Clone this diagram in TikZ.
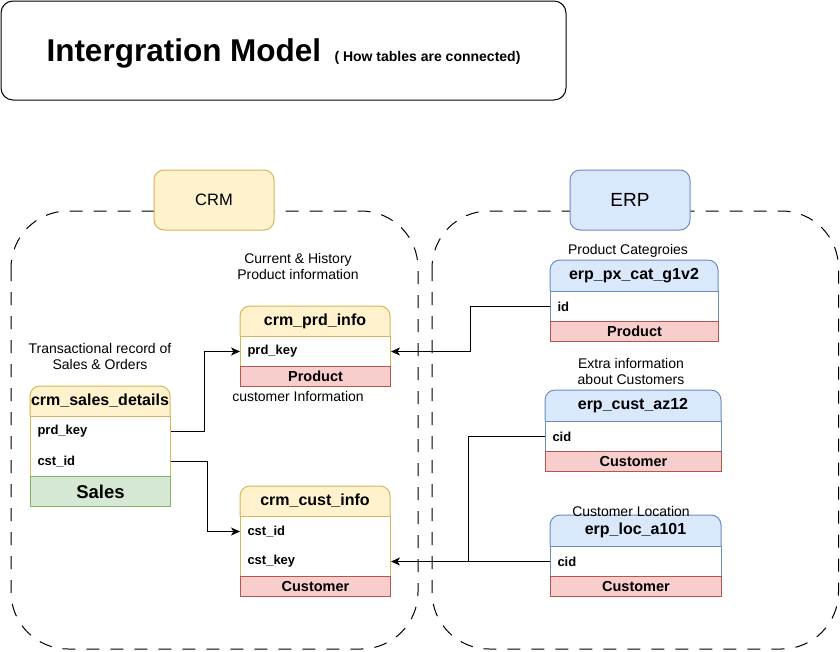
\documentclass[tikz,border=0pt]{standalone}
\usepackage{fontspec}
\setmainfont{Liberation Sans}
\usetikzlibrary{arrows.meta}
\definecolor{yfill}{HTML}{FFF2CC}
\definecolor{yline}{HTML}{D6B656}
\definecolor{bfill}{HTML}{DAE8FC}
\definecolor{bline}{HTML}{6C8EBF}
\definecolor{rfill}{HTML}{F8CECC}
\definecolor{rline}{HTML}{B85450}
\definecolor{gfill}{HTML}{D5E8D4}
\definecolor{gline}{HTML}{82B366}
\begin{document}
\begin{tikzpicture}[x=1pt,y=-1pt,line width=1pt,
  container/.style={draw=black,dash pattern=on 13pt off 11pt,rounded corners=57pt},
  groupbox/.style={rounded corners=10pt,minimum width=120pt,minimum height=60pt,inner sep=0pt},
  hdrbox/.style={rounded corners=10pt},
  hdr/.style={inner sep=0pt,font=\fontsize{16}{19}\selectfont\bfseries},
  rowbox/.style={fill=white,inner xsep=7pt,inner ysep=0pt,anchor=north west,minimum height=30pt,align=left,font=\fontsize{13}{15}\selectfont\bfseries},
  footbox/.style={draw=rline,fill=rfill,inner sep=0pt,anchor=north west,minimum height=20pt,font=\fontsize{14.5}{16}\selectfont\bfseries},
  note/.style={align=center,inner sep=0pt,font=\fontsize{14}{16}\selectfont},
  conn/.style={draw=black,-{Stealth[length=9pt,width=8pt,inset=2.5pt]}},
  plain/.style={draw=black}]
\useasboundingbox (0,0) rectangle (840,651);
\fill[white] (0,0) rectangle (840,651);

% title
\draw[rounded corners=12pt] (1,1) rectangle (566,100);
\node[anchor=base west,inner sep=0pt,font=\fontsize{31.5}{36}\selectfont\bfseries] (title) at (46,61.5) {Intergration Model};
\node[anchor=base west,inner sep=0pt,font=\fontsize{14}{17}\selectfont\bfseries] (subtitle) at (334,61.5) {( How tables are connected)};

% containers
\draw[container] (11,211) rectangle (418,649);
\draw[container] (432,211) rectangle (838.5,649);
\node[groupbox,draw=yline,fill=yfill,font=\fontsize{16.5}{19}\selectfont] (crm) at (214,200) {CRM};
\node[groupbox,draw=bline,fill=bfill,font=\fontsize{19}{22}\selectfont] (erp) at (630,200) {ERP};

% crm_prd_info
\path[hdrbox,draw=yline,fill=yfill] (240,336) -- (240,306) -- (390,306) -- (390,336);
\node[hdr] (prdH) at (315,321) {crm\_prd\_info};
\node[rowbox,draw=yline,minimum width=150pt,text width=136pt] (prdKey) at (240,336) {prd\_key};
\node[footbox,minimum width=150pt] (prdF) at (240,366) {Product};

% crm_sales_details
\path[hdrbox,draw=yline,fill=yfill] (30,416) -- (30,386) -- (170,386) -- (170,416);
\node[hdr] (salesH) at (100,401) {crm\_sales\_details};
\draw[yline,fill=white] (30,416) rectangle (170,476);
\node[rowbox,fill=none,minimum width=140pt,text width=126pt] (salesPrd) at (30,416) {prd\_key};
\node[rowbox,fill=none,minimum width=140pt,text width=126pt] (salesCst) at (30,446) {cst\_id};
\node[footbox,draw=gline,fill=gfill,minimum width=140pt,minimum height=30pt,font=\fontsize{18.5}{22}\selectfont\bfseries] (salesF) at (30,476) {Sales};

% crm_cust_info
\path[hdrbox,draw=yline,fill=yfill] (240,516) -- (240,486) -- (390,486) -- (390,516);
\node[hdr] (custH) at (315,501) {crm\_cust\_info};
\draw[yline,fill=white] (240,516) rectangle (390,576);
\node[rowbox,fill=none,minimum width=150pt,text width=136pt] (custId) at (240,516) {cst\_id};
\node[rowbox,fill=none,minimum width=150pt,text width=136pt] (custKey) at (240,546) {cst\_key};
\node[footbox,minimum width=150pt] (custF) at (240,576) {Customer};

% erp_px_cat_g1v2
\path[hdrbox,draw=bline,fill=bfill] (550,291) -- (550,260) -- (718,260) -- (718,291);
\node[hdr] (pxH) at (634,275.5) {erp\_px\_cat\_g1v2};
\node[rowbox,draw=bline,minimum width=168pt,text width=154pt] (pxId) at (550,291) {id};
\node[footbox,minimum width=168pt] (pxF) at (550,321) {Product};

% erp_cust_az12
\path[hdrbox,draw=bline,fill=bfill] (545,421) -- (545,390) -- (721,390) -- (721,421);
\node[hdr] (azH) at (633,405.5) {erp\_cust\_az12};
\node[rowbox,draw=bline,minimum width=176pt,text width=162pt] (azCid) at (545,421) {cid};
\node[footbox,minimum width=176pt] (azF) at (545,451) {Customer};

% erp_loc_a101
\path[hdrbox,draw=bline,fill=bfill] (550,546) -- (550,515) -- (721,515) -- (721,546);
\node[hdr] (locH) at (635.5,530.5) {erp\_loc\_a101};
\node[rowbox,draw=bline,minimum width=171pt,text width=157pt] (locCid) at (550,546) {cid};
\node[footbox,minimum width=171pt] (locF) at (550,576) {Customer};

% notes
\node[note] (nPrd) at (298,266) {Current \& History\\Product information};
\node[note] (nSales) at (100,356) {Transactional record of\\Sales \& Orders};
\node[note] (nCust) at (298,396) {customer Information};
\node[note] (nPx) at (628,251) {Product Categroies};
\node[note] (nAz) at (631,371) {Extra information\\about Customers};
\node[note] (nLoc) at (631,511) {Customer Location};

% connectors
\coordinate (junction) at (468,561);
\draw[conn] (salesPrd.east) -- ++(33,0) |- (prdKey.west);
\draw[conn] (salesCst.east) -- ++(36,0) |- (custId.west);
\draw[conn] (pxId.west) -- ++(-80,0) |- (prdKey.east);
\draw[plain] (azCid.west) -| (junction);
\draw[conn] (locCid.west) -- (custKey.east);
\end{tikzpicture}
\end{document}
